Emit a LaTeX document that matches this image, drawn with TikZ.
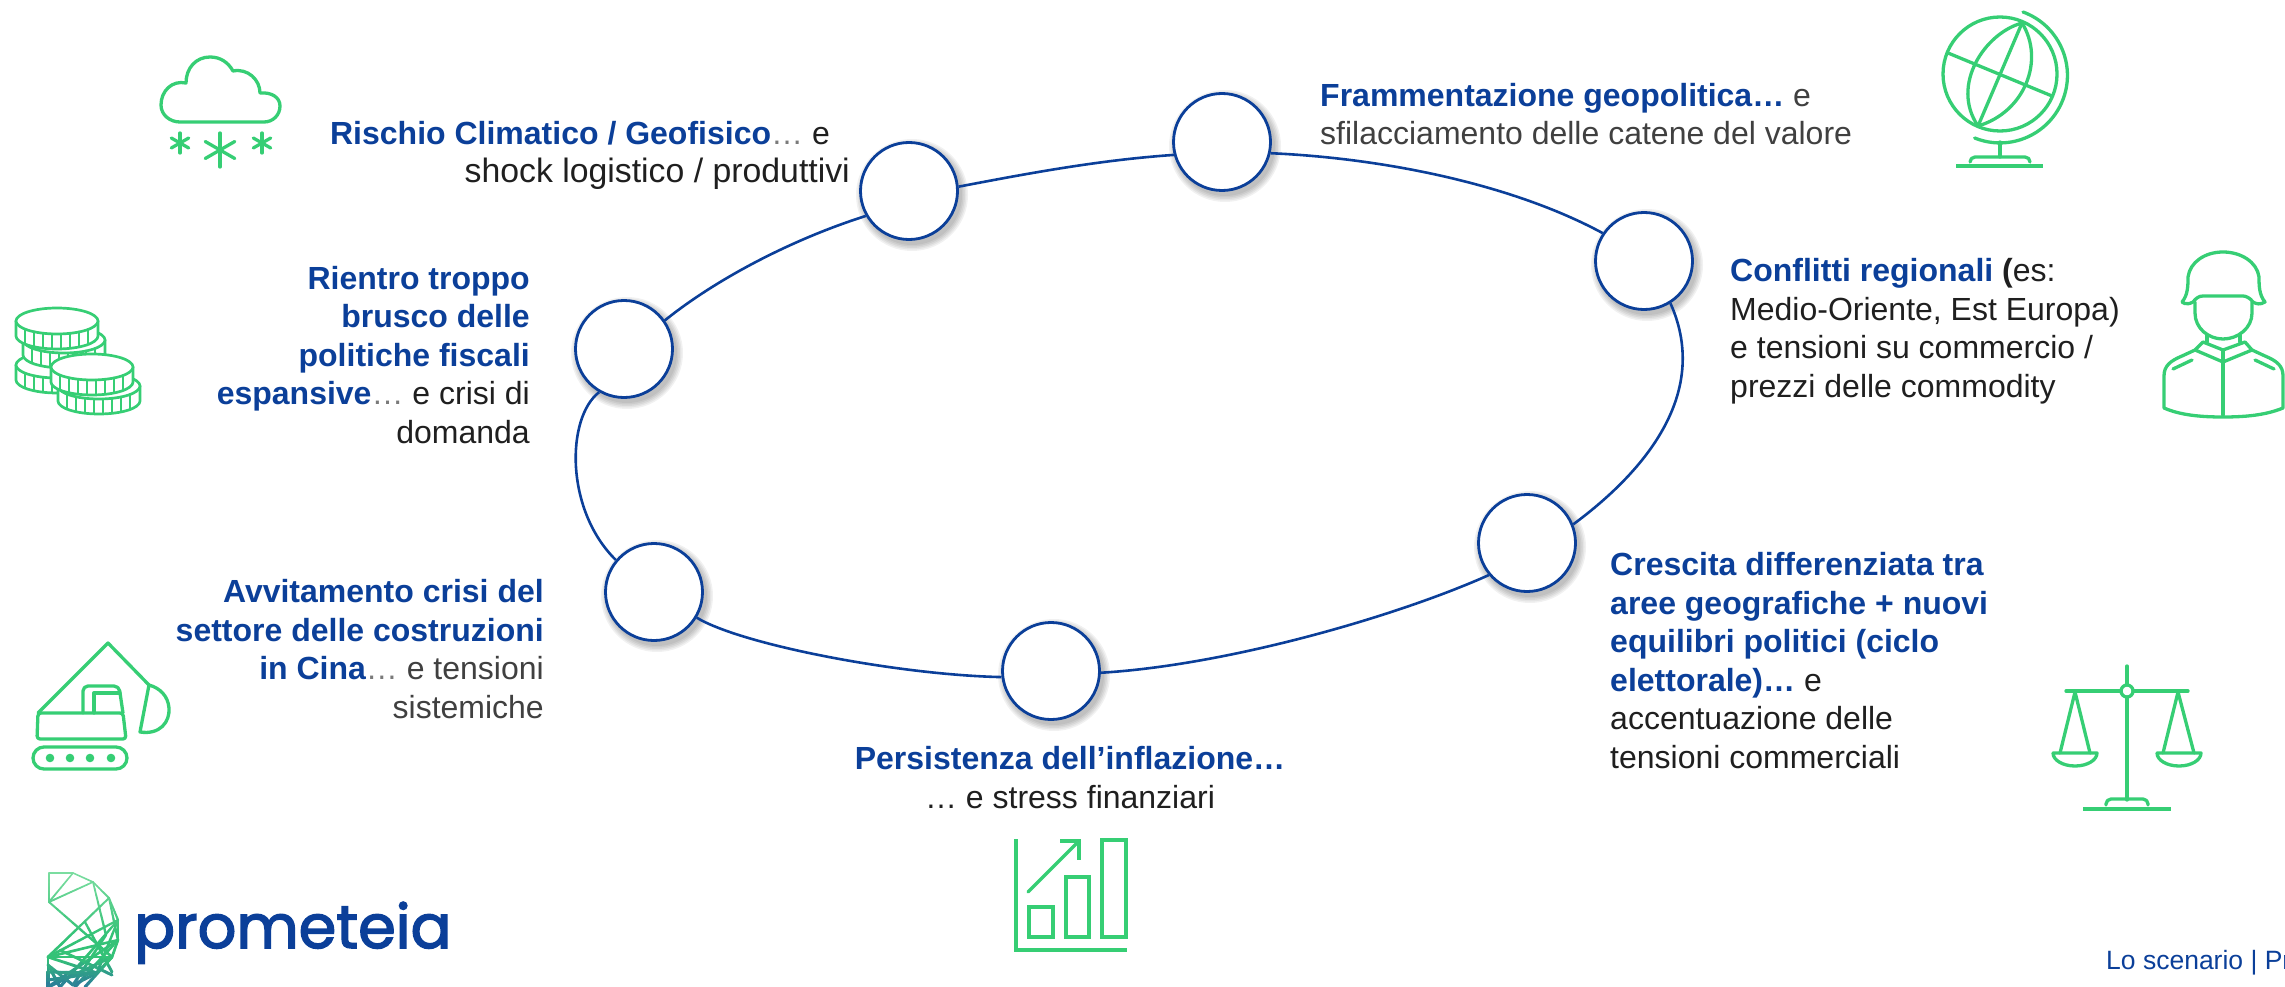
\documentclass[tikz,border=0pt]{standalone}
\usepackage{fontspec}
\setmainfont{Liberation Sans}
\newfontfamily\logofont[FakeBold=2.5]{Poppins}
\definecolor{pblue}{HTML}{0B3F99}
\definecolor{pgreen}{HTML}{36CE74}
\definecolor{tx}{HTML}{1F1F1F}
\definecolor{tg}{HTML}{404040}
\definecolor{dots}{HTML}{7A7A7A}
\definecolor{lgA}{HTML}{7BDDA0}
\definecolor{lgB}{HTML}{34C277}
\definecolor{lgC}{HTML}{2B7A9B}
\newcommand{\bl}[1]{\textcolor{pblue}{\bfseries #1}}
\newcommand{\dd}{\textcolor{dots}{…}}
\newcommand{\shadowat}[2]{\foreach \rr in {50,51.5,...,56}{\fill[black,opacity=.055] (#1+3,#2+4) circle[radius=\rr pt];}}
\newcommand{\coinicon}[2]{\begin{scope}[shift={(#1,#2)}]
 \filldraw[icon,line width=2.7pt,fill=white] (-41,0) -- (-41,15) arc(180:360:41pt and 13pt) -- (41,0) -- cycle;
 \filldraw[icon,line width=2.7pt,fill=white] (0,0) ellipse (41pt and 13pt);
 \foreach \k in {-32,-23,-14,-5,4,13,22,31}{
  \pgfmathsetmacro\yy{13*sqrt(1-(\k/41)^2)}
  \draw[icon,line width=2.7pt] (\k,\yy) -- (\k,\yy+14);}
 \end{scope}}
\tikzset{
 icon/.style={draw=pgreen,line width=3.3pt,line join=round,line cap=round},
 ringnode/.style={circle,draw=pblue,fill=white,line width=2.8pt,minimum size=97pt,inner sep=0pt},
 ringline/.style={draw=pblue,line width=2.6pt},
 lab/.style={inner sep=0pt,text=tx,font=\fontsize{32}{38.5}\selectfont},
}
\begin{document}
\begin{tikzpicture}[x=1pt,y=-1pt]
\useasboundingbox (0,0) rectangle (2285,987);
\clip (0,0) rectangle (2285,987);
% shadows
\shadowat{1222}{142}\shadowat{909}{191}\shadowat{624}{349}\shadowat{654}{592}\shadowat{1051}{671}\shadowat{1527}{543}\shadowat{1644}{261}
% ring nodes
\node[ringnode] (c1) at (1222,142) {};
\node[ringnode] (c2) at (909,191) {};
\node[ringnode] (c3) at (624,349) {};
\node[ringnode] (c4) at (654,592) {};
\node[ringnode] (c5) at (1051,671) {};
\node[ringnode] (c6) at (1527,543) {};
\node[ringnode] (c7) at (1644,261) {};
% ring connectors
\draw[ringline] (c2.5) .. controls (1030,173) and (1100,160) .. (c1.195);
\draw[ringline] (c1.347) .. controls (1380,158) and (1510,183) .. (c7.146);
\draw[ringline] (c7.302) .. controls (1712,396) and (1640,475) .. (c6.22);
\draw[ringline] (c6.220) .. controls (1400,615) and (1230,665) .. (c5.358);
\draw[ringline] (c5.187) .. controls (900,675) and (742,645) .. (c4.329);
\draw[ringline] (c4.140) .. controls (565,510) and (566,418) .. (c3.240);
\draw[ringline] (c3.35) .. controls (715,280) and (790,240) .. (c2.210);
% labels
\node[lab,align=right,anchor=base east] (t1) at (850,183) {\bl{Rischio Climatico / Geofisico}\dd{} e\hbox to 20pt{}\\{\fontsize{33.8}{38.5}\selectfont shock logistico / produttivi}};
\node[lab,align=right,anchor=base east] (t2) at (530,443) {\bl{Rientro troppo}\\\bl{brusco delle}\\\bl{politiche fiscali}\\\bl{espansive}\dd{} e crisi di\\domanda};
\node[lab,align=right,anchor=base east,text=tg] (t3) at (544,718) {\bl{Avvitamento crisi del}\\\bl{settore delle costruzioni}\\\bl{in Cina}\dd{} e tensioni\\sistemiche};
\node[lab,align=center,anchor=base] (t4) at (1070,808) {\bl{Persistenza dell’inflazione…}\\… e stress finanziari};
\node[lab,align=left,anchor=base west] (t5) at (1610,768) {\bl{Crescita differenziata tra}\\\bl{aree geografiche + nuovi}\\\bl{equilibri politici (ciclo}\\\bl{elettorale)…} e\\accentuazione delle\\tensioni commerciali};
\node[lab,align=left,anchor=base west] (t6) at (1730,397) {\bl{Conflitti regionali} \textbf{(}es:\\Medio-Oriente, Est Europa)\\e tensioni su commercio /\\prezzi delle commodity};
\node[lab,align=left,anchor=base west,text=tg] (t7) at (1320,145) {\bl{Frammentazione geopolitica…} e\\sfilacciamento delle catene del valore};
\node[inner sep=0pt,anchor=base west,text=pblue,font=\fontsize{26.5}{30}\selectfont] (foot) at (2106,969) {Lo scenario | Pr};
\node[inner sep=0pt,anchor=base west,text=pblue,font=\logofont\fontsize{60.5}{70}\selectfont] (logo) at (134,948) {prometeia};
% cloud
\draw[icon] (180,122) -- (264,122) .. controls (273,122) and (280,115) .. (280,106) .. controls (280,97) and (271,92) .. (260,93) .. controls (260,80) and (248,68) .. (233,71) .. controls (228,62) and (220,57) .. (210,57) .. controls (196,57) and (186,68) .. (186,83) .. controls (172,80) and (161,91) .. (161,105) .. controls (161,115) and (170,122) .. (180,122) -- cycle;
\foreach \cx/\cy/\rr in {180/143/10,262/143/10,220/150/17}{
 \draw[icon] (\cx,\cy-\rr) -- (\cx,\cy+\rr);
 \draw[icon] (\cx-.87*\rr,\cy-.5*\rr) -- (\cx+.87*\rr,\cy+.5*\rr);
 \draw[icon] (\cx-.87*\rr,\cy+.5*\rr) -- (\cx+.87*\rr,\cy-.5*\rr);
}
% coins
\coinicon{57}{365}
\coinicon{64}{340}
\coinicon{57}{321}
\coinicon{99}{386}
\coinicon{92}{367}
% excavator
\draw[icon] (38,713) -- (108,643) -- (149,685);
\draw[icon,rounded corners=3pt] (38,713) -- (123,713) -- (126,739) -- (37,739) -- cycle;
\draw[icon,rounded corners=5pt] (83,713) -- (83,686) -- (119,686) -- (123,713);
\draw[icon] (94,713) -- (94,693) -- (120,693);
\draw[icon] (149,685) -- (140,732) .. controls (160,735) and (170,722) .. (169,708) .. controls (168,696) and (160,688) .. (149,685) -- cycle;
\draw[icon,rounded corners=11pt] (33,747) rectangle (127,769);
\foreach \dx in {50,70,90,111}{\fill[pgreen] (\dx,758) circle[radius=4.3pt];}
% globe
\draw[icon] (2000,74) circle[radius=57pt];
\draw[icon] (2023,12) arc(70:-112:67.5pt);
\draw[icon] (2000,142) -- (2000,157);
\draw[icon,rounded corners=5pt] (1970,162) -- (1970,157) -- (2030,157) -- (2030,162);
\draw[icon,line cap=butt] (1956,166) -- (2043,166);
\draw[icon] (2022,23) -- (1978,126);
\draw[icon] (1948,53) -- (2052,96);
\draw[icon] (2022,23) .. controls (1985,33) and (1950,85) .. (1978,126);
\draw[icon] (2022,23) .. controls (2045,60) and (2025,112) .. (1978,126);
% soldier
\draw[icon] (2193,302) .. controls (2186,306) and (2182,302) .. (2182,302) .. controls (2188,295) and (2188,285) .. (2188,277) .. controls (2190,262) and (2205,252) .. (2223,252) .. controls (2241,252) and (2257,262) .. (2259,277) .. controls (2259,285) and (2259,295) .. (2265,302) .. controls (2260,305) and (2256,304) .. (2253,302) .. controls (2250,298) and (2246,296) .. (2243,296) -- (2203,296) .. controls (2199,296) and (2196,298) .. (2193,302);
\draw[icon] (2195,302) -- (2195,313) .. controls (2195,328) and (2208,339) .. (2223,339) .. controls (2238,339) and (2252,328) .. (2252,313) -- (2252,302);
\draw[icon] (2207,335) -- (2207,342); \draw[icon] (2240,335) -- (2240,342);
\draw[icon] (2195,350) -- (2203,342) -- (2223,350) -- (2245,342) -- (2252,350) -- (2223,362) -- cycle;
\draw[icon] (2223,350) -- (2223,415);
\draw[icon] (2195,350) -- (2182,356) .. controls (2170,361) and (2164,366) .. (2164,376) -- (2164,408) .. controls (2180,415) and (2200,417) .. (2223,417) .. controls (2246,417) and (2266,415) .. (2283,408) -- (2283,376) .. controls (2283,366) and (2277,361) .. (2265,356) -- (2252,350);
\draw[icon] (2173,369) -- (2192,360);
\draw[icon] (2255,360) -- (2274,369);
% scales
\draw[icon] (2127,666) -- (2127,800);
\draw[icon] (2066,691) -- (2188,691);
\filldraw[icon,fill=white] (2127,691) circle[radius=6pt];
\draw[icon] (2060,753) -- (2075,692) -- (2090,753);
\draw[icon] (2163,753) -- (2178,692) -- (2194,753);
\draw[icon] (2053,753) -- (2097,753) arc(0:-180:22pt and 13pt);
\draw[icon] (2157,753) -- (2201,753) arc(0:-180:22pt and 13pt);
\draw[icon,rounded corners=5pt] (2106,805) -- (2106,799) -- (2148,799) -- (2148,805);
\draw[draw=pgreen,line width=4pt] (2083,809) -- (2171,809);
% chart
\draw[icon,line cap=butt,line join=miter] (1016,839) -- (1016,950) -- (1127,950);
\draw[icon,line join=miter] (1029,907) rectangle (1053,937);
\draw[icon,line join=miter] (1066,877) rectangle (1089,937);
\draw[icon,line join=miter] (1102,840) rectangle (1126,937);
\draw[icon] (1028,892) -- (1079,841);
\draw[icon,line cap=butt,line join=miter] (1060,841) -- (1079,841) -- (1079,860);
% logo mesh
\foreach \ax/\ay/\bx/\by in {49/873/73/873,49/873/49/902,49/902/73/873,49/902/93/882,73/873/93/882,93/882/109/898,109/898/118/920,118/920/118/940,118/940/112/957,112/957/97/973,97/973/73/985,48/957/48/987,48/957/109/898,49/902/112/957,93/882/106/935,109/898/118/940,48/957/118/920,48/957/118/940,48/957/112/957,118/920/60/987,118/940/75/987,112/957/48/987,97/973/48/957,73/985/48/965,118/920/97/973,85/922/112/972,118/940/48/987,106/935/73/985,48/972/97/973,60/950/112/975,85/987/112/957,48/980/97/973,60/987/48/965}{
 \foreach \i in {0,...,7}{
  \pgfmathsetmacro\sx{\ax+(\bx-\ax)*\i/8}
  \pgfmathsetmacro\sy{\ay+(\by-\ay)*\i/8}
  \pgfmathsetmacro\ex{\ax+(\bx-\ax)*(\i+1)/8}
  \pgfmathsetmacro\ey{\ay+(\by-\ay)*(\i+1)/8}
  \pgfmathsetmacro\tt{min(1,max(0,((\sy+\ey)/2-873)/114))}
  \pgfmathsetmacro\lw{1.5+1.7*\tt}
  \pgfmathsetmacro\pa{max(0,min(100,100*(\tt/0.55)))}
  \pgfmathsetmacro\pb{max(0,min(100,100*((\tt-0.75)/0.25)))}
  \draw[line cap=round,line width=\lw pt,color=lgC!\pb!lgB!\pa!lgA] (\sx,\sy) -- (\ex,\ey);
 }
}
\end{tikzpicture}
\end{document}
